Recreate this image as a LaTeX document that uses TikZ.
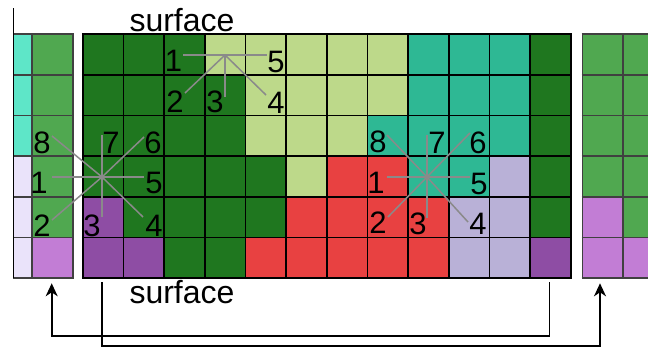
\documentclass[tikz,border=0pt]{standalone}
\usepackage{fontspec}
\setmainfont{Liberation Sans}
\usetikzlibrary{arrows.meta}
\definecolor{DG}{HTML}{1F771F}
\definecolor{LG}{HTML}{BDD98A}
\definecolor{TE}{HTML}{2EB894}
\definecolor{RE}{HTML}{E84141}
\definecolor{LA}{HTML}{B9B1D7}
\definecolor{PU}{HTML}{8E4DA4}
\definecolor{MG}{HTML}{50A850}
\definecolor{LP}{HTML}{C27DD5}
\definecolor{TQ}{HTML}{5EE6C8}
\definecolor{LL}{HTML}{EAE3FA}
\definecolor{RAY}{HTML}{8A8A8A}
\tikzset{
  gridline/.style={black,line width=1.6pt},
  blockline/.style={black!75,line width=1.6pt},
  ray/.style={RAY,line width=1.5pt},
  num/.style={inner sep=0pt,font=\fontsize{31}{31}\selectfont},
  surf/.style={inner sep=0pt,anchor=base,font=\fontsize{32}{32}\selectfont},
  conn/.style={black,line width=1.6pt},
  tip/.style={-{Stealth[length=13pt,width=12pt,inset=4pt]}}
}
\begin{document}
\begin{tikzpicture}[x=1pt,y=-1pt]
\useasboundingbox (0,0) rectangle (648,348);
% main grid cells
\foreach \r/\cols in {
 0/{DG,DG,DG,LG,LG,LG,LG,LG,TE,TE,TE,DG},
 1/{DG,DG,DG,DG,LG,LG,LG,LG,TE,TE,TE,DG},
 2/{DG,DG,DG,DG,LG,LG,LG,TE,TE,TE,TE,DG},
 3/{DG,DG,DG,DG,DG,LG,RE,RE,TE,TE,LA,DG},
 4/{PU,DG,DG,DG,DG,RE,RE,RE,RE,LA,LA,DG},
 5/{PU,PU,DG,DG,RE,RE,RE,RE,RE,LA,LA,PU}}{
  \foreach \c [count=\i from 0] in \cols {
    \fill[\c] ({82.7+\i*40.67},{34+\r*40.7}) rectangle +(40.67,40.7);
  }
}
% left block cells
\foreach \r/\a/\b in {0/TQ/MG,1/TQ/MG,2/TQ/MG,3/LL/MG,4/LL/MG,5/LL/LP}{
  \fill[\a] (13.3,{34+\r*40.7}) rectangle (31.7,{34+(\r+1)*40.7});
  \fill[\b] (31.7,{34+\r*40.7}) rectangle (72.7,{34+(\r+1)*40.7});
}
% right block cells
\foreach \r/\a/\b in {0/MG/MG,1/MG/MG,2/MG/MG,3/MG/MG,4/LP/MG,5/LP/LP}{
  \fill[\a] (582.3,{34+\r*40.7}) rectangle (622.7,{34+(\r+1)*40.7});
  \fill[\b] (622.7,{34+\r*40.7}) rectangle (648,{34+(\r+1)*40.7});
}
% grid lines
\foreach \i in {0,...,12} \draw[gridline] ({82.7+\i*40.67},34) -- ++(0,244.2);
\foreach \j in {0,...,6} \draw[gridline] (81.9,{34+\j*40.7}) -- (571.5,{34+\j*40.7});
\foreach \x in {31.7,72.7} \draw[blockline] (\x,34) -- (\x,278.2);
\foreach \j in {0,...,6} \draw[blockline] (13.3,{34+\j*40.7}) -- (73.5,{34+\j*40.7});
\foreach \x in {582.3,622.7} \draw[blockline] (\x,34) -- (\x,278.2);
\foreach \j in {0,...,6} \draw[blockline] (581.5,{34+\j*40.7}) -- (648,{34+\j*40.7});
\draw[black,line width=1.3pt] (13.3,8) -- (13.3,278.2);
% surface labels
\node[surf] (stop) at (182,31.5) {surface};
\node[surf] (sbot) at (182,303) {surface};
% star 1 (top)
\coordinate (c1) at (225,55);
\foreach \n/\p in {l/{183,55},r/{267,55},dl/{185,93},d/{225,97},dr/{266,95}}
  \coordinate (c1\n) at (\p);
\foreach \n in {l,r,dl,d,dr} \draw[ray] (c1) -- (c1\n);
\node[num] (t1) at (173.5,61) {1};
\node[num] (t2) at (175,102) {2};
\node[num] (t3) at (215,102) {3};
\node[num] (t4) at (276,103) {4};
\node[num] (t5) at (276,62) {5};
% star 2 (left)
\coordinate (c2) at (102,177);
\foreach \n/\p in {ul/{52,136},u/{102,135},ur/{144,137},l/{52,177},r/{144,177},dl/{52,220},d/{102,217},dr/{143,217}}
  \coordinate (c2\n) at (\p);
\foreach \n in {ul,u,ur,l,r,dl,d,dr} \draw[ray] (c2) -- (c2\n);
\node[num] (a8) at (42,143) {8};
\node[num] (a7) at (111,143) {7};
\node[num] (a6) at (153,143) {6};
\node[num] (a1) at (39,183) {1};
\node[num] (a5) at (154,183) {5};
\node[num] (a2) at (42,226) {2};
\node[num] (a3) at (92,226) {3};
\node[num] (a4) at (154,226) {4};
% star 3 (right)
\coordinate (c3) at (427,177);
\foreach \n/\p in {ul/{387,135},u/{427,135},ur/{470,133},l/{387,177},r/{470,177},dl/{388,217},d/{427,218},dr/{468,222}}
  \coordinate (c3\n) at (\p);
\foreach \n in {ul,u,ur,l,r,dl,d,dr} \draw[ray] (c3) -- (c3\n);
\node[num] (b8) at (378,142) {8};
\node[num] (b7) at (437,143) {7};
\node[num] (b6) at (478,143) {6};
\node[num] (b1) at (376,183) {1};
\node[num] (b5) at (479,184) {5};
\node[num] (b2) at (378,223) {2};
\node[num] (b3) at (418,224) {3};
\node[num] (b4) at (478,224) {4};
% wrap-around arrows
\coordinate (pa) at (549.3,282);
\coordinate (qa) at (51.7,283.3);
\coordinate (pb) at (101.7,282);
\coordinate (qb) at (600,283.3);
\draw[conn,tip] (pa) -- ++(0,54) -| (qa);
\draw[conn,tip] (pb) -- ++(0,64) -| (qb);
\end{tikzpicture}
\end{document}
